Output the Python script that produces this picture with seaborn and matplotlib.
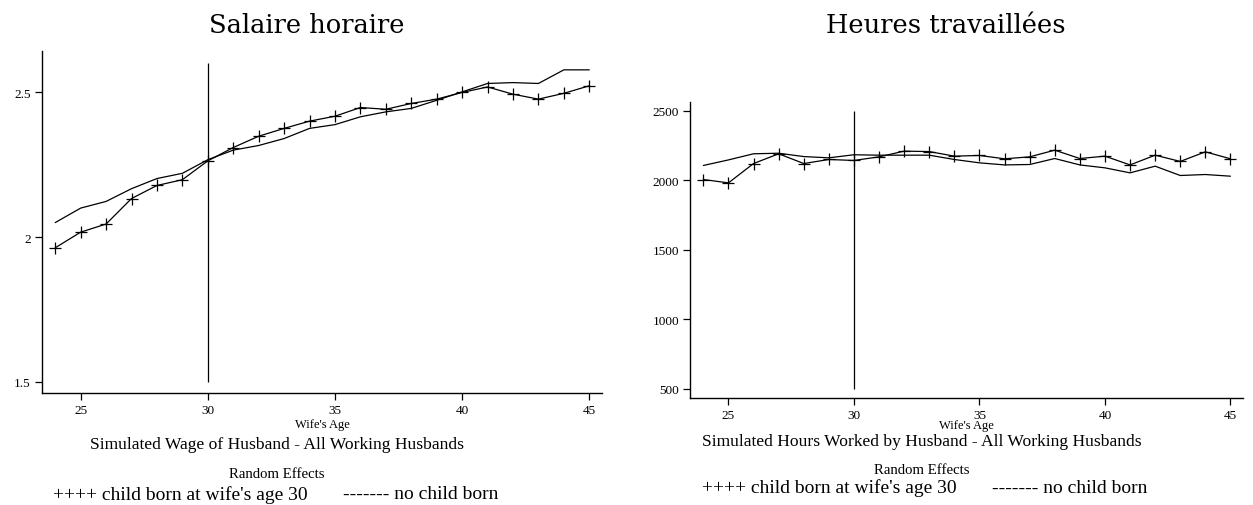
import matplotlib
matplotlib.use("Agg")
import matplotlib.pyplot as plt
import seaborn as sns
import pandas as pd

# Wife's age on the horizontal axis
ages = list(range(24, 46))

# Simulated hourly wage of the husband (Random Effects)
wage_child = [1.963, 2.017, 2.045, 2.133, 2.178, 2.198, 2.263, 2.309, 2.348, 2.375, 2.400,
              2.417, 2.447, 2.441, 2.461, 2.476, 2.499, 2.518, 2.493, 2.476, 2.496, 2.522]
wage_nochild = [2.050, 2.100, 2.123, 2.167, 2.202, 2.220, 2.267, 2.300, 2.316, 2.340, 2.375,
                2.388, 2.415, 2.432, 2.444, 2.472, 2.501, 2.530, 2.533, 2.530, 2.577, 2.577]

# Simulated hours worked by the husband (Random Effects)
hours_child = [2005, 1981, 2120, 2190, 2120, 2149, 2142, 2168, 2209, 2206, 2173,
               2178, 2154, 2168, 2216, 2156, 2173, 2110, 2180, 2135, 2204, 2154]
hours_nochild = [2106, 2146, 2190, 2194, 2170, 2161, 2183, 2180, 2180, 2180, 2149,
                 2125, 2110, 2113, 2156, 2110, 2089, 2053, 2101, 2034, 2041, 2029]

birth_age = 30
x_ticks = [25, 30, 35, 40, 45]
wage_ticks = [1.5, 2, 2.5]
wage_ticklabels = ["1.5", "2", "2.5"]
hours_ticks = [500, 1000, 1500, 2000, 2500]

panel_titles = ["Salaire horaire", "Heures travaillées"]
captions = ["Simulated Wage of Husband - All Working Husbands",
            "Simulated Hours Worked by Husband - All Working Husbands"]
x_label = "Wife's Age"
legend_title = "Random Effects"
legend_child = "++++ child born at wife's age 30"
legend_nochild = "------- no child born"

sns.set_style("ticks")
plt.rcParams["font.family"] = ["Liberation Serif", "DejaVu Serif"]
plt.rcParams["text.color"] = "black"

W, H = 1253, 506
fig = plt.figure(figsize=(W / 100, H / 100), dpi=100)


def fx(px):
    return px / W


def fy(py):
    return 1 - py / H


ax1 = fig.add_axes([fx(42), fy(394.3), fx(602 - 42), (394.3 - 52.3) / H])
ax2 = fig.add_axes([fx(690.3), fy(399), fx(1243 - 690.3), (399 - 103.3) / H])

df_wage = pd.DataFrame({"age": ages, "child": wage_child, "nochild": wage_nochild})
df_hours = pd.DataFrame({"age": ages, "child": hours_child, "nochild": hours_nochild})

line_kw = dict(color="black", linewidth=0.9, legend=False)
mark_kw = dict(marker="+", markersize=9, markeredgewidth=0.9, markeredgecolor="black")

for ax, df, ylim, vline, yt, ytl in [
    (ax1, df_wage, (1.461, 2.641), (1.5, 2.6), wage_ticks, wage_ticklabels),
    (ax2, df_hours, (435, 2560), (500, 2500), hours_ticks, [str(t) for t in hours_ticks]),
]:
    sns.lineplot(data=df, x="age", y="nochild", ax=ax, **line_kw)
    sns.lineplot(data=df, x="age", y="child", ax=ax, **line_kw, **mark_kw)
    ax.vlines(birth_age, vline[0], vline[1], color="black", linewidth=0.9)
    ax.set_xlim(23.48, 45.5)
    ax.set_ylim(*ylim)
    ax.set_xticks(x_ticks)
    ax.set_xticklabels([str(t) for t in x_ticks])
    ax.set_yticks(yt)
    ax.set_yticklabels(ytl)
    ax.set_xlabel("")
    ax.set_ylabel("")
    sns.despine(ax=ax)
    for s in ("left", "bottom"):
        ax.spines[s].set_color("black")
        ax.spines[s].set_linewidth(1.0)
    ax.tick_params(axis="both", direction="out", length=5, width=0.9, color="black",
                   labelsize=9.5, labelcolor="black", pad=3)

# Panel titles
fig.text(fx(307), fy(33), panel_titles[0], ha="center", va="baseline",
         fontsize=18.5, family="DejaVu Serif", color="black")
fig.text(fx(946), fy(33), panel_titles[1], ha="center", va="baseline",
         fontsize=18.5, family="DejaVu Serif", color="black")

# Axis labels, captions and key text below each panel
txt = dict(va="center", color="black")
fig.text(fx(322), fy(425), x_label, ha="center", fontsize=9, **txt)
fig.text(fx(966.5), fy(425.7), x_label, ha="center", fontsize=9, **txt)

fig.text(fx(276.5), fy(445), captions[0], ha="center", fontsize=12.6, **txt)
fig.text(fx(921.7), fy(442.3), captions[1], ha="center", fontsize=12.6, **txt)

fig.text(fx(276.7), fy(475), legend_title, ha="center", fontsize=10.6, **txt)
fig.text(fx(921.7), fy(470.7), legend_title, ha="center", fontsize=10.6, **txt)

fig.text(fx(53), fy(495), legend_child, ha="left", fontsize=14, **txt)
fig.text(fx(343), fy(495), legend_nochild, ha="left", fontsize=14, **txt)
fig.text(fx(701.7), fy(488.3), legend_child, ha="left", fontsize=14, **txt)
fig.text(fx(991.7), fy(488.3), legend_nochild, ha="left", fontsize=14, **txt)

fig.savefig("out.png", dpi=100)
